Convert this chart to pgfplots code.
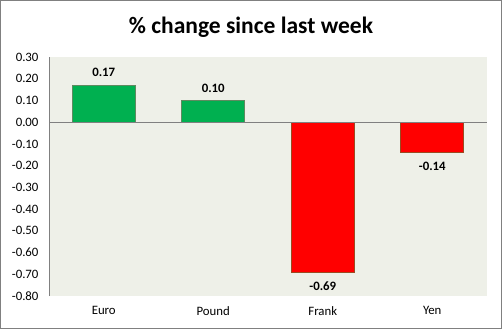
\documentclass[border=0pt]{standalone}
\usepackage{pgfplots}
\pgfplotsset{compat=1.18}
\usepackage{fontspec}
\setmainfont{Carlito}
\definecolor{plotbg}{HTML}{EEF0E8}
\definecolor{xlgreen}{HTML}{00B050}
\definecolor{xlred}{HTML}{FF0000}
\definecolor{rededge}{HTML}{9A4B22}
\definecolor{greenedge}{HTML}{5E8A60}
\definecolor{axgray}{HTML}{808080}
\begin{document}
\begin{tikzpicture}[x=1pt,y=1pt]
\fill[white] (0,0) rectangle (502,329);
\draw[axgray,line width=1pt] (0.5,0.5) rectangle (501.5,328.5);
\node[font=\bfseries\fontsize{23.5}{26}\selectfont] at (251,302) {\% change since last week};
\begin{axis}[
  at={(49pt,33pt)}, anchor=south west,
  scale only axis, width=438pt, height=239pt,
  xmin=-0.5, xmax=3.5, ymin=-0.8, ymax=0.3,
  axis background/.style={fill=plotbg},
  axis x line*=bottom,
  axis y line*=left,
  x axis line style={draw=none},
  y axis line style={axgray,line width=0.9pt,-},
  ytick={-0.8,-0.7,-0.6,-0.5,-0.4,-0.3,-0.2,-0.1,0,0.1,0.2,0.3},
  major tick length=0pt,
  /pgf/number format/fixed,
  /pgf/number format/fixed zerofill,
  /pgf/number format/precision=2,
  /pgf/number format/assume math mode=true,
  tick label style={font=\fontsize{12.8}{14}\selectfont,text=black},
  y tick label style={xshift=-7pt},
  x tick label style={yshift=-7pt},
  xtick={0,1,2,3}, xticklabels={Euro,Pound,Frank,Yen},
  ybar, bar width=63pt, bar shift=0pt,
  nodes near coords,
  nodes near coords style={font=\bfseries\fontsize{12.8}{14}\selectfont},
  clip=false,
]
\addplot[fill=xlgreen, draw=greenedge, line width=0.6pt,
  every node near coord/.append style={anchor=south, inner sep=0pt, yshift=8pt}] coordinates {(0,0.17) (1,0.10)};
\addplot[fill=xlred, draw=rededge, line width=0.6pt,
  every node near coord/.append style={anchor=north, inner sep=0pt, yshift=-9pt}] coordinates {(2,-0.69) (3,-0.14)};
\draw[axgray,line width=0.9pt] (axis cs:-0.5,0) -- (axis cs:3.5,0);
\end{axis}
\end{tikzpicture}
\end{document}
